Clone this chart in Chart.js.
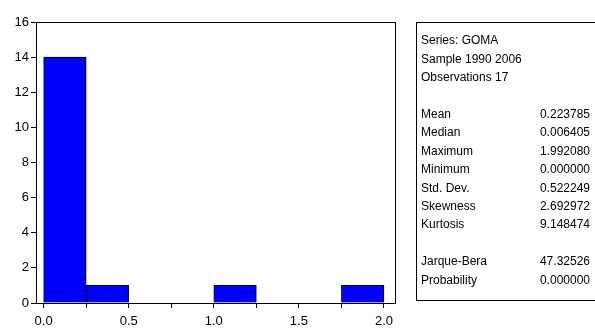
<!DOCTYPE html>
<html>
<head>
<meta charset="utf-8">
<script src="https://cdn.jsdelivr.net/npm/chart.js@4/dist/chart.umd.min.js"></script>
<style>
  html, body { margin: 0; padding: 0; background: #fff; }
  #wrap { position: relative; width: 595px; height: 329px; }
</style>
</head>
<body>
<div id="wrap"><canvas id="histChart"></canvas></div>
<script>
// histogram bins (left edges) and counts
const binStarts = [0, 0.25, 0.5, 0.75, 1.0, 1.25, 1.5, 1.75];
const binCounts = [14, 1, 0, 0, 1, 0, 0, 1];
const binWidth = 0.25;

// axis ticks
const xTickValues = [0, 0.25, 0.5, 0.75, 1.0, 1.25, 1.5, 1.75, 2.0];
const xTickLabels = ["0.0", "", "0.5", "", "1.0", "", "1.5", "", "2.0"];
const yTickValues = [0, 2, 4, 6, 8, 10, 12, 14, 16];

// descriptive statistics box
const statLabels = ["Series: GOMA", "Sample 1990 2006", "Observations 17", "",
  "Mean", "Median", "Maximum", "Minimum", "Std. Dev.", "Skewness", "Kurtosis", "",
  "Jarque-Bera", "Probability"];
const statValues = ["", "", "", "",
  "0.223785", "0.006405", "1.992080", "0.000000", "0.522249", "2.692972", "9.148474", "",
  "47.32526", "0.000000"];

const FONT = "'Liberation Sans', Arial, sans-serif";

const histData = binStarts.map((s, i) => ({
  x: s + binWidth / 2,
  y: binCounts[i] > 0 ? binCounts[i] : null
}));

// frame around plot area
const framePlugin = {
  id: "frame",
  afterDatasetsDraw(chart) {
    const { ctx, chartArea: a } = chart;
    ctx.save();
    ctx.strokeStyle = "#000";
    ctx.lineWidth = 1;
    ctx.strokeRect(Math.round(a.left) + 0.5, Math.round(a.top) + 0.5,
      Math.round(a.right - a.left), Math.round(a.bottom - a.top));
    ctx.restore();
  }
};

// stats box on the right
const statsPlugin = {
  id: "stats",
  afterDraw(chart) {
    const ctx = chart.ctx;
    const boxLeft = 416, boxTop = 22, boxBottom = 300;
    ctx.save();
    ctx.strokeStyle = "#000";
    ctx.lineWidth = 1;
    ctx.strokeRect(boxLeft + 0.5, boxTop + 0.5, 200, boxBottom - boxTop);
    ctx.fillStyle = "#000";
    ctx.font = "12px " + FONT;
    ctx.textBaseline = "middle";
    const firstY = 41, step = 18.4;
    statLabels.forEach((lab, i) => {
      const y = firstY + i * step;
      ctx.textAlign = "left";
      ctx.fillText(lab, 421, y);
      ctx.textAlign = "right";
      ctx.fillText(statValues[i], 590, y);
    });
    ctx.restore();
  }
};

new Chart(document.getElementById("histChart"), {
  type: "bar",
  data: {
    datasets: [{
      data: histData,
      backgroundColor: "#0000ff",
      borderColor: "#000",
      borderWidth: 1,
      barPercentage: 1,
      categoryPercentage: 1
    }]
  },
  options: {
    responsive: true,
    maintainAspectRatio: false,
    animation: false,
    events: [],
    layout: { padding: { left: 0, top: 22, right: 200, bottom: 0 } },
    plugins: { legend: { display: false }, tooltip: { enabled: false } },
    scales: {
      x: {
        type: "linear",
        offset: false,
        min: -0.045,
        max: 2.065,
        afterBuildTicks: (scale) => { scale.ticks = xTickValues.map(v => ({ value: v })); },
        afterFit: (scale) => { scale.height = 26; },
        ticks: {
          autoSkip: false,
          maxRotation: 0,
          color: "#000",
          font: { family: FONT, size: 13 },
          padding: 6,
          callback: (v, i) => xTickLabels[i]
        },
        grid: { offset: false, drawOnChartArea: false, drawTicks: true, tickLength: 5, color: "#000" },
        border: { display: true, color: "#000" }
      },
      y: {
        min: 0,
        max: 16,
        afterBuildTicks: (scale) => { scale.ticks = yTickValues.map(v => ({ value: v })); },
        afterFit: (scale) => { scale.width = 36; },
        ticks: {
          color: "#000",
          font: { family: FONT, size: 13 },
          padding: 2
        },
        grid: { drawOnChartArea: false, drawTicks: true, tickLength: 5, color: "#000" },
        border: { display: true, color: "#000" }
      }
    }
  },
  plugins: [framePlugin, statsPlugin]
});
</script>
</body>
</html>
